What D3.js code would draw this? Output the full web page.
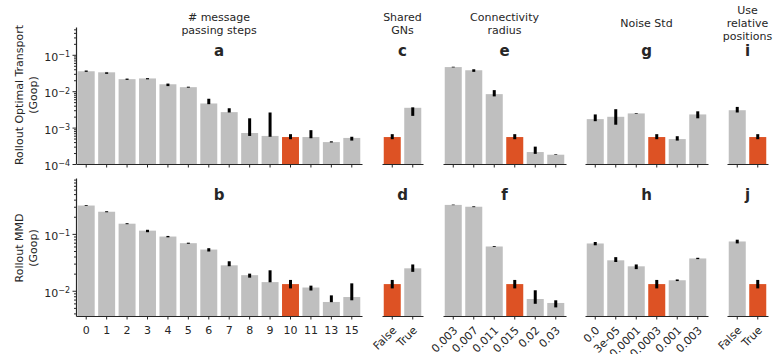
<!DOCTYPE html>
<html>
<head>
<meta charset="utf-8">
<script src="https://cdn.jsdelivr.net/npm/d3@7"></script>
<style>
  body { margin: 0; background: #fff; }
  text { font-family: "DejaVu Sans", sans-serif; fill: #262626; }
  .axis path, .axis line { stroke: #262626; }
</style>
</head>
<body>
<svg id="chart" width="773" height="354"></svg>
<script>
// ---- data ----
var stepsCats = ["0","1","2","3","4","5","6","7","8","9","10","11","13","15"];
var stepsOT   = [0.0353,0.033,0.0214,0.0224,0.0155,0.0129,0.0046,0.00266,0.00071,0.00059,0.00055,0.00055,0.0004,0.00052];
var stepsOTerr = [[0.034,0.037],[0.030,0.033],[0.0205,0.0222],[0.0212,0.0228],[0.0138,0.0162],[0.0125,0.0133],[0.0044,0.0062],[0.0026,0.0034],[0.00059,0.0018],[0.00056,0.0026],[0.00048,0.00066],[0.00051,0.00085],[0.00039,0.00042],[0.00044,0.00056]];
var stepsMMD  = [0.315,0.245,0.151,0.114,0.0898,0.0686,0.053,0.028,0.0188,0.0142,0.0131,0.0114,0.00635,0.00776];
var stepsMMDerr = [[0.31,0.32],[0.24,0.25],[0.148,0.154],[0.107,0.118],[0.087,0.092],[0.067,0.07],[0.049,0.056],[0.027,0.033],[0.017,0.02],[0.0141,0.0229],[0.011,0.0155],[0.0101,0.0123],[0.0063,0.0083],[0.0068,0.0135]];

var sharedCats = ["False","True"];
var sharedOT   = [0.00055,0.0035];
var sharedOTerr = [[0.00048,0.00066],[0.0021,0.0036]];
var sharedMMD  = [0.0131,0.0248];
var sharedMMDerr = [[0.011,0.0155],[0.0215,0.029]];

var radiusCats = ["0.003","0.007","0.011","0.015","0.02","0.03"];
var radiusOT   = [0.046,0.0376,0.0083,0.00055,0.000213,0.00018];
var radiusOTerr = [[0.045,0.047],[0.034,0.04],[0.0072,0.0107],[0.00048,0.00066],[0.00019,0.0003],[0.000178,0.000185]];
var radiusMMD  = [0.323,0.30,0.060,0.0131,0.00716,0.0061];
var radiusMMDerr = [[0.32,0.327],[0.295,0.305],[0.059,0.061],[0.011,0.0155],[0.0059,0.0102],[0.0051,0.0068]];

var noiseCats = ["0.0","3e-05","0.0001","0.0003","0.001","0.003"];
var noiseOT   = [0.00171,0.00198,0.00245,0.00055,0.000484,0.0023];
var noiseOTerr = [[0.0015,0.0023],[0.0012,0.0032],[0.0024,0.0025],[0.00048,0.00066],[0.00044,0.00058],[0.0018,0.0028]];
var noiseMMD  = [0.0678,0.0343,0.0269,0.0131,0.0153,0.037];
var noiseMMDerr = [[0.063,0.072],[0.032,0.039],[0.024,0.029],[0.011,0.0155],[0.0148,0.0158],[0.036,0.038]];

var relposCats = ["False","True"];
var relposOT   = [0.003,0.00055];
var relposOTerr = [[0.0026,0.0037],[0.00048,0.00066]];
var relposMMD  = [0.0735,0.0131];
var relposMMDerr = [[0.068,0.079],[0.011,0.0155]];

var grey = "#bfbfbf", orange = "#dd5224";

var panels = [
  {title:["# message","passing steps"], letters:["a","b"], cats:stepsCats, hi:10, ot:stepsOT, otErr:stepsOTerr, mmd:stepsMMD, mmdErr:stepsMMDerr, x0:76, x1:362, rot:false, yaxis:true},
  {title:["Shared","GNs"], letters:["c","d"], cats:sharedCats, hi:0, ot:sharedOT, otErr:sharedOTerr, mmd:sharedMMD, mmdErr:sharedMMDerr, x0:382, x1:423, rot:true},
  {title:["Connectivity","radius"], letters:["e","f"], cats:radiusCats, hi:3, ot:radiusOT, otErr:radiusOTerr, mmd:radiusMMD, mmdErr:radiusMMDerr, x0:443, x1:566, rot:true},
  {title:["Noise Std"], letters:["g","h"], cats:noiseCats, hi:3, ot:noiseOT, otErr:noiseOTerr, mmd:noiseMMD, mmdErr:noiseMMDerr, x0:585, x1:708, rot:true},
  {title:["Use","relative","positions"], letters:["i","j"], cats:relposCats, hi:1, ot:relposOT, otErr:relposOTerr, mmd:relposMMD, mmdErr:relposMMDerr, x0:727, x1:768, rot:true}
];

var svg = d3.select("#chart");

//two rows, shared y per row
var rows = [
  {key:"ot", errKey:"otErr", y:d3.scaleLog().domain([1e-4,0.58]).range([164,27]), majors:[1e-4,1e-3,1e-2,1e-1], exps:["−4","−3","−2","−1"], label:["Rollout Optimal Transport","(Goop)"], labelY:95, letterY:56, labels:false},
  {key:"mmd", errKey:"mmdErr", y:d3.scaleLog().domain([0.0036,0.96]).range([316,178]), majors:[1e-2,1e-1], exps:["−2","−1"], label:["Rollout MMD","(Goop)"], labelY:248, letterY:200, labels:true}
];

function minorTicks(dom){
  var out=[];
  for (var e=-5;e<=0;e++){
    for (var m=2;m<=9;m++){
      var v=m*Math.pow(10,e);
      if(v>=dom[0]&&v<=dom[1]) out.push(v);
    }
  }
  return out;
}

rows.forEach(function(row, ri){
  var y = row.y;
  var yBase = y.range()[0];

  //y axis label
  var lab = svg.append("text")
    .attr("transform","translate(24,"+row.labelY+") rotate(-90)")
    .attr("text-anchor","middle")
    .style("font-size","11px");
  lab.append("tspan").attr("x",0).attr("dy","-0.1em").text(row.label[0]);
  lab.append("tspan").attr("x",0).attr("dy","1.25em").text(row.label[1]);

  panels.forEach(function(p, pi){
    var x = d3.scaleBand().domain(p.cats).range([p.x0,p.x1]).paddingInner(0.17).paddingOuter(0.085);
    var vals = p[row.key], errs = p[row.errKey];
    var g = svg.append("g");

    g.selectAll("rect").data(vals).enter().append("rect")
      .attr("x", function(d,i){ return x(p.cats[i]); })
      .attr("width", x.bandwidth())
      .attr("y", function(d){ return y(d); })
      .attr("height", function(d){ return yBase - y(d); })
      .attr("fill", function(d,i){ return i==p.hi ? orange : grey; });

    g.selectAll("line.err").data(errs).enter().append("line")
      .attr("class","err")
      .attr("x1", function(d,i){ return x(p.cats[i]) + x.bandwidth()/2; })
      .attr("x2", function(d,i){ return x(p.cats[i]) + x.bandwidth()/2; })
      .attr("y1", function(d){ return y(d[0]); })
      .attr("y2", function(d){ return y(d[1]); })
      .attr("stroke","#000").attr("stroke-width",3);

    //x axis
    var xa = svg.append("g").attr("class","axis")
      .attr("transform","translate(0,"+yBase+")")
      .call(d3.axisBottom(x).tickSize(3.5).tickSizeOuter(0).tickPadding(7));
    xa.select(".domain").attr("stroke-width",1.2);
    xa.selectAll("text").style("font-size","11px").attr("fill","#262626");
    if(!row.labels){
      xa.selectAll("text").remove();
    } else if(p.rot){
      xa.selectAll("text")
        .attr("y",0).attr("dy",0).attr("x",0)
        .attr("text-anchor","end")
        .attr("transform","translate(5,15) rotate(-45)");
    }

    //y axis only on first column
    if(p.yaxis){
      var ya = svg.append("g").attr("class","axis")
        .attr("transform","translate("+p.x0+",0)")
        .call(d3.axisLeft(y).tickValues(row.majors).tickSize(3.5).tickSizeOuter(0).tickPadding(3).tickFormat(""));
      ya.select(".domain").attr("stroke-width",1.2);
      ya.selectAll(".tick").each(function(d,i){
        var t = d3.select(this).append("text")
          .attr("x",-6).attr("dy","0.5em")
          .attr("text-anchor","end")
          .style("font-size","11px");
        t.append("tspan").text("10");
        t.append("tspan").attr("dy","-0.45em").style("font-size","8px").text(row.exps[i]);
      });
      var ym = svg.append("g").attr("class","axis")
        .attr("transform","translate("+p.x0+",0)")
        .call(d3.axisLeft(y).tickValues(minorTicks(y.domain())).tickSize(2).tickSizeOuter(0).tickFormat(""));
      ym.select(".domain").remove();
    }

    //panel letter
    svg.append("text")
      .attr("x",(p.x0+p.x1)/2).attr("y",row.letterY)
      .attr("text-anchor","middle")
      .style("font-size","15px").style("font-weight","bold")
      .attr("fill","#000")
      .text(p.letters[ri]);

    //column title on top row
    if(ri==0){
      var n = p.title.length;
      var tt = svg.append("text").attr("text-anchor","middle").style("font-size","11px");
      p.title.forEach(function(s,k){
        tt.append("tspan").attr("x",(p.x0+p.x1)/2)
          .attr("y", 23 + (k-(n-1)/2)*13 + 4)
          .text(s);
      });
    }
  });
});
</script>
</body>
</html>
